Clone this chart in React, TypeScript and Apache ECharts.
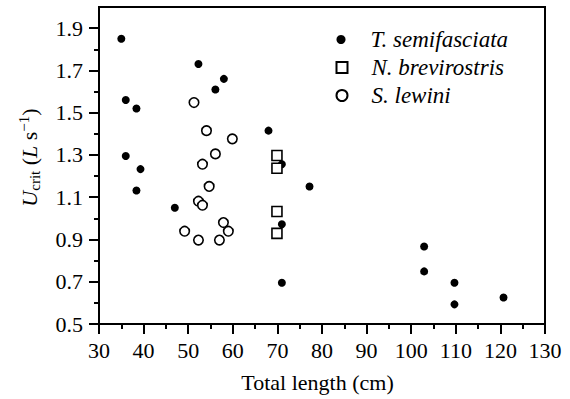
import React, { useEffect, useRef } from "react";
import * as echarts from "echarts";

const tSemifasciata: [number, number][] = [
  [35.0, 1.85], [36.0, 1.56], [38.4, 1.52], [36.0, 1.295], [39.3, 1.233],
  [38.4, 1.132], [47.0, 1.05], [52.3, 1.73], [58.0, 1.66], [56.1, 1.61],
  [68.0, 1.415], [71.0, 1.256], [77.2, 1.151], [71.0, 0.972], [71.0, 0.695],
  [102.9, 0.867], [102.9, 0.749], [109.7, 0.695], [109.7, 0.593], [120.7, 0.625],
];
const nBrevirostris: [number, number][] = [
  [69.9, 1.297], [69.9, 1.237], [69.9, 1.032], [69.9, 0.929],
];
const sLewini: [number, number][] = [
  [51.3, 1.548], [54.1, 1.415], [59.9, 1.376], [56.1, 1.305], [53.2, 1.256],
  [54.7, 1.151], [52.3, 1.081], [53.2, 1.062], [49.2, 0.939], [52.3, 0.897],
  [57.0, 0.897], [57.9, 0.98], [59.0, 0.939],
];
const yMajorTicks = [0.5, 0.7, 0.9, 1.1, 1.3, 1.5, 1.7, 1.9];
const yMinorTicks = [0.6, 0.8, 1.0, 1.2, 1.4, 1.6, 1.8];
const seriesNames = ["T. semifasciata", "N. brevirostris", "S. lewini"];

const FONT = "Liberation Serif";
const FS = 22;

export default function App() {
  const ref = useRef<HTMLDivElement>(null);
  useEffect(() => {
    if (!ref.current) return;
    const chart = echarts.init(ref.current, null, { renderer: "svg" });
    const legendText = {
      fontFamily: FONT, fontSize: 23, fontStyle: "italic", color: "#000",
    };
    chart.setOption({
      animation: false,
      backgroundColor: "#fff",
      textStyle: { fontFamily: FONT },
      grid: {
        left: 99, right: 25, top: 7, bottom: 75,
        show: true, borderColor: "#000", borderWidth: 2, backgroundColor: "transparent",
      },
      legend: [
        {
          orient: "vertical", padding: 0,
          data: [seriesNames[0]], top: 28, left: 336.5, itemWidth: 9, itemHeight: 9,
          textStyle: { ...legendText, padding: [0, 0, 0, 20] },
        },
        {
          orient: "vertical", padding: 0,
          data: [seriesNames[1]], top: 56, left: 335.5, itemWidth: 11, itemHeight: 11,
          textStyle: { ...legendText, padding: [0, 0, 0, 19] },
        },
        {
          orient: "vertical", padding: 0,
          data: [seriesNames[2]], top: 84, left: 335.5, itemWidth: 11, itemHeight: 11,
          textStyle: { ...legendText, padding: [0, 0, 0, 19] },
        },
      ],
      xAxis: {
        type: "value",
        min: 30, max: 130, interval: 10,
        name: "Total length (cm)",
        nameLocation: "middle",
        nameGap: 47,
        nameTextStyle: { fontFamily: FONT, fontSize: FS, color: "#000", padding: [0, 9, 0, 0] },
        axisLine: { lineStyle: { color: "#000", width: 2 } },
        axisTick: { length: 10, lineStyle: { color: "#000", width: 2 } },
        minorTick: { show: true, splitNumber: 2, length: 5, lineStyle: { color: "#000", width: 2 } },
        splitLine: { show: false },
        axisLabel: { fontFamily: FONT, fontSize: FS, color: "#000", margin: 15 },
      },
      yAxis: [
        {
          type: "value",
          min: 0.5, max: 2.0,
          name: "{i|U}{sub|crit} ({i|L} s{sup|−1})",
          nameLocation: "middle",
          nameGap: 55,
          nameRotate: 90,
          nameTextStyle: {
            fontFamily: FONT, fontSize: FS, color: "#000",
            padding: [0, 0, 0, 16],
            rich: {
              i: { fontFamily: FONT, fontSize: FS, fontStyle: "italic", color: "#000", lineHeight: 30, verticalAlign: "middle" },
              sub: { fontFamily: FONT, fontSize: 15, color: "#000", lineHeight: 30, verticalAlign: "bottom", padding: [0, 0, 2, 0] },
              sup: { fontFamily: FONT, fontSize: 15, color: "#000", lineHeight: 30, verticalAlign: "top", padding: [2, 0, 0, 0] },
            },
          },
          axisLine: { lineStyle: { color: "#000", width: 2 } },
          axisTick: { length: 10, customValues: yMajorTicks, lineStyle: { color: "#000", width: 2 } },
          splitLine: { show: false },
          axisLabel: {
            customValues: yMajorTicks,
            fontFamily: FONT, fontSize: FS, color: "#000", margin: 16,
            formatter: (v: number) => v.toFixed(1),
          },
        },
        {
          type: "value",
          min: 0.5, max: 2.0,
          position: "left",
          axisLine: { show: false },
          axisTick: { length: 5, customValues: yMinorTicks, lineStyle: { color: "#000", width: 2 } },
          axisLabel: { show: false },
          splitLine: { show: false },
        },
      ],
      series: [
        {
          name: seriesNames[0], type: "scatter", data: tSemifasciata,
          symbol: "circle", symbolSize: 8,
          itemStyle: { color: "#000", opacity: 1 },
        },
        {
          name: seriesNames[1], type: "scatter", data: nBrevirostris,
          symbol: "rect", symbolSize: 10,
          itemStyle: { color: "#fff", borderColor: "#000", borderWidth: 1.6, opacity: 1 },
        },
        {
          name: seriesNames[2], type: "scatter", data: sLewini,
          symbol: "circle", symbolSize: 9.5,
          itemStyle: { color: "#fff", borderColor: "#000", borderWidth: 1.6, opacity: 1 },
        },
      ],
    });
    return () => chart.dispose();
  }, []);
  return <div ref={ref} style={{ width: 570, height: 399, position: "fixed", left: 0, top: 0 }} />;
}
